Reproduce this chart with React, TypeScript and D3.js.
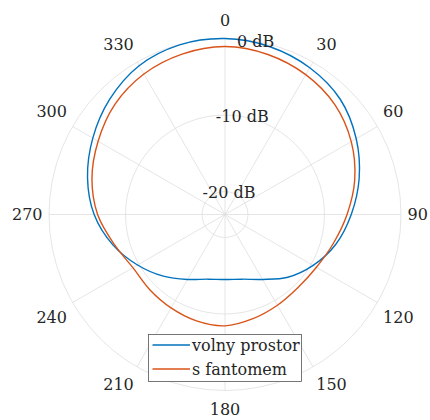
import React from "react";
import * as d3 from "d3";

// Angles (degrees, clockwise from top) at which the patterns were sampled
const angles = [0, 15, 30, 45, 60, 75, 90, 105, 120, 135, 150, 165, 180, 195, 210, 225, 240, 255, 270, 285, 300, 315, 330, 345];

// Relative level in dB
const volnyProstor = [0, -0.3, -0.85, -1.7, -3.2, -4.85, -6.5, -8.0, -9.7, -11.4, -13.2, -14.25, -14.5, -14.25, -13.2, -11.6, -9.8, -7.8, -5.9, -4.4, -3.05, -1.7, -0.55, -0.05];
const sFantomem = [-1.05, -1.35, -1.9, -2.7, -3.95, -5.45, -7.05, -8.35, -9.2, -9.5, -9.3, -8.9, -8.45, -8.6, -8.9, -9.1, -9.1, -8.0, -6.35, -5.0, -3.85, -2.65, -1.8, -1.3];

const thetaTicks = [0, 30, 60, 90, 120, 150, 180, 210, 240, 270, 300, 330];
const rTicks = [-20, -10, 0];
const rTickLabels = ["-20 dB", "-10 dB", "0 dB"];
const rMin = -23;

const seriesNames = ["volny prostor", "s fantomem"];
const seriesColors = ["#0072BD", "#D95319"];

const W = 430;
const H = 420;
const cx = 225;
const cy = 214.5;
const R = 176;
const FONT = "'DejaVu Serif', serif";
const FS = 16;
const TEXT = "#262626";
const GRID = "#dedede";

const textStyle = { fontFamily: FONT, fontSize: FS };

export default function App() {
  const r = d3.scaleLinear().domain([rMin, 0]).range([0, R]);
  const rad = (deg: number) => (deg * Math.PI) / 180;

  const line = d3
    .lineRadial<[number, number]>()
    .angle((d) => rad(d[0]))
    .radius((d) => r(d[1]))
    .curve(d3.curveCatmullRomClosed.alpha(0.5));

  const series = [volnyProstor, sFantomem].map((vals) =>
    angles.map((a, i) => [a, vals[i]] as [number, number])
  );

  // angle labels: anchored just outside the rim, aligned away from the centre
  const labelGap = 182.5;
  const halfH = 12;
  const eps = 1e-6;
  const labelProps = (t: number) => {
    const s = Math.sin(rad(t));
    const c = Math.cos(rad(t));
    const x = labelGap * s;
    let y = -labelGap * c;
    const anchor = s > eps ? "start" : s < -eps ? "end" : "middle";
    if (c > eps) y -= halfH;
    else if (c < -eps) y += halfH;
    return { x, y, anchor };
  };

  return (
    <svg width={W} height={H} style={{ position: "absolute", left: 0, top: 0 }}>
      <rect x={0} y={0} width={W} height={H} fill="#ffffff" />
      <g transform={`translate(${cx},${cy})`}>
        {/* spokes */}
        {thetaTicks.map((t) => (
          <line
            key={`s${t}`}
            x1={0}
            y1={0}
            x2={R * Math.sin(rad(t))}
            y2={-R * Math.cos(rad(t))}
            stroke={GRID}
            strokeWidth={0.8}
          />
        ))}
        {/* rings */}
        {rTicks.map((v) => (
          <circle key={`c${v}`} r={r(v)} fill="none" stroke={GRID} strokeWidth={0.8} />
        ))}
        {/* curves */}
        {series.map((s, i) => (
          <path key={`p${i}`} d={line(s) || ""} fill="none" stroke={seriesColors[i]} strokeWidth={1.4} />
        ))}
        {/* radial tick labels */}
        {rTicks.map((v, i) => (
          <text
            key={`rl${v}`}
            x={r(v) * Math.sin(rad(10))}
            y={-r(v) * Math.cos(rad(10))}
            dy="0.35em"
            textAnchor="middle"
            style={textStyle}
            fill={TEXT}
          >
            {rTickLabels[i]}
          </text>
        ))}
        {/* angle labels */}
        {thetaTicks.map((t) => {
          const p = labelProps(t);
          return (
            <text key={`tl${t}`} x={p.x} y={p.y} dy="0.35em" textAnchor={p.anchor} style={textStyle} fill={TEXT}>
              {t}
            </text>
          );
        })}
      </g>
      {/* legend */}
      <g>
        <rect x={148.5} y={334.5} width={153} height={47} fill="#ffffff" stroke="#555555" strokeWidth={0.8} />
        {seriesNames.map((n, i) => (
          <g key={`lg${i}`}>
            <line x1={152.5} x2={190} y1={345 + i * 24} y2={345 + i * 24} stroke={seriesColors[i]} strokeWidth={1.4} />
            <text x={192} y={345 + i * 24} dy="0.35em" style={textStyle} fill={TEXT}>
              {n}
            </text>
          </g>
        ))}
      </g>
    </svg>
  );
}
